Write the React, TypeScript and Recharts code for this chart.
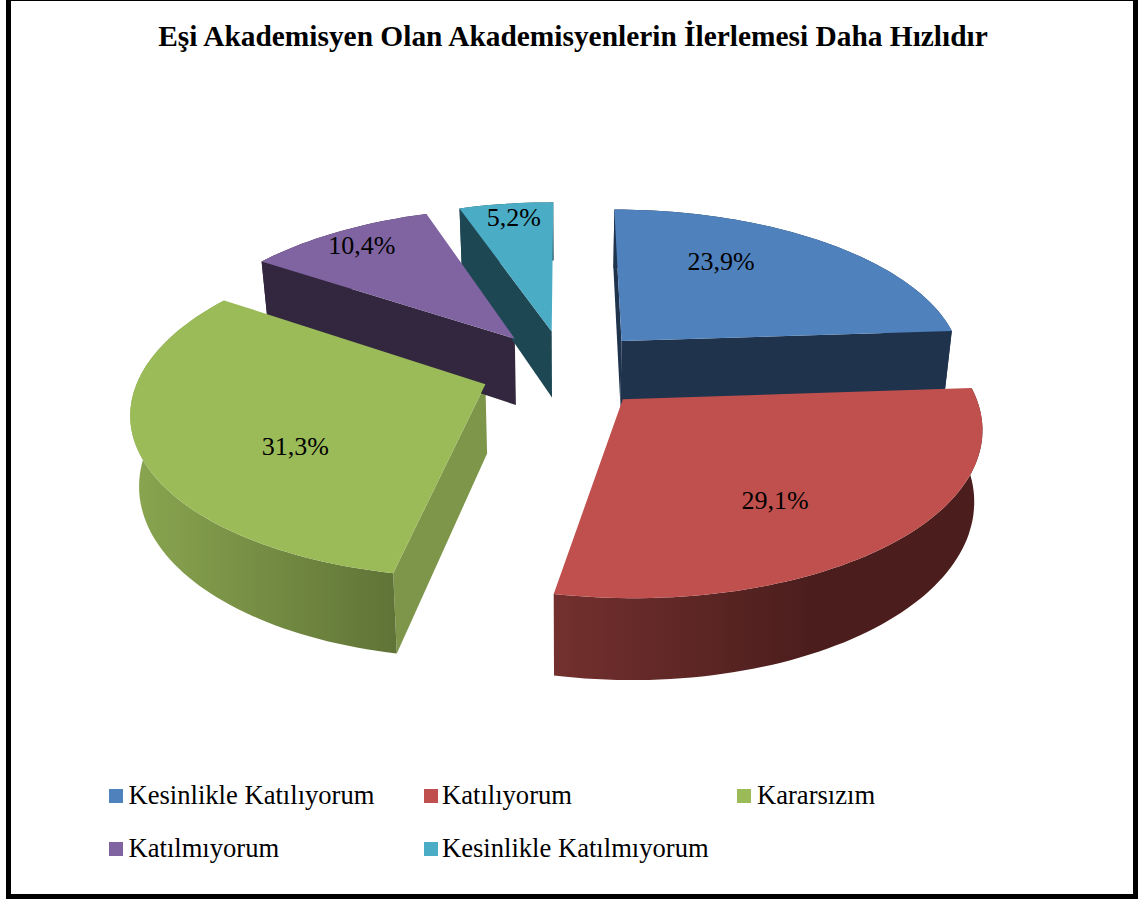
import React from 'react';
import { PieChart, Pie, Legend } from 'recharts';

const categories = [
  'Kesinlikle Katılıyorum',
  'Katılıyorum',
  'Kararsızım',
  'Katılmıyorum',
  'Kesinlikle Katılmıyorum',
];
const shares = [23.9, 29.1, 31.3, 10.4, 5.2];

const topColors = ['#4f81bd', '#c0504d', '#9bbb59', '#8064a2', '#4bacc6'];
const edgeColors = ['#1f334d', '#73302e', '#7d964a', '#33273f', '#1d4853'];
const rimLight = ['#1f334d', '#73302e', '#8aa650', '#33273f', '#1d4853'];
const rimDark = ['#1f334d', '#4b1e1d', '#607437', '#33273f', '#1d4853'];
// label shift from the slice's mid-radius point, px
const labelNudge = [
  [-26, -17],
  [-3, 20],
  [13, 23],
  [-42, -26],
  [-9, -33],
];

const table = categories.map((name, i) => ({ name, value: shares[i], fill: topColors[i] }));

const FONT = '"Liberation Serif", serif';
const RADIUS = 344;
const SQUASH = 159 / RADIUS;
const PERSPECTIVE_X = 0.15;
const PERSPECTIVE_Y = 0.15;
const EXPLODE = 0.247;

const toRad = (deg: number) => (deg * Math.PI) / 180;

// clock angle (0 at the top, clockwise) + radius on a unit disc -> screen point
function project(cx: number, cy: number, rx: number, midClock: number, clock: number, r: number) {
  const X = Math.sin(toRad(midClock)) * EXPLODE + Math.sin(toRad(clock)) * r;
  const Y = -Math.cos(toRad(midClock)) * EXPLODE - Math.cos(toRad(clock)) * r;
  return {
    x: cx + (rx * X) / (1 - PERSPECTIVE_X * Y),
    y: cy + (rx * SQUASH * Y) / (1 - PERSPECTIVE_Y * Y),
  };
}

// the same point on the underside of the slab
function drop(p: { x: number; y: number }) {
  return { x: p.x + (570 - p.x) * 0.02, y: p.y + 58 + (p.y - 200) * 0.06 };
}

const toPath = (pts: { x: number; y: number }[]) =>
  pts.map((p, i) => `${i ? 'L' : 'M'}${p.x.toFixed(1)} ${p.y.toFixed(1)}`).join(' ') + ' Z';

function rimPoints(props: any) {
  const from = 90 - props.startAngle;
  const to = 90 - props.endAngle;
  const mid = (from + to) / 2;
  const pts = [];
  for (let a = from; a < to; a += 1.5) pts.push(project(props.cx, props.cy, props.outerRadius, mid, a, 1));
  pts.push(project(props.cx, props.cy, props.outerRadius, mid, to, 1));
  const apex = project(props.cx, props.cy, props.outerRadius, mid, 0, 0);
  return { from, to, pts, apex };
}

const SlabSide = (props: any) => {
  const { from, to, pts, apex } = rimPoints(props);
  const i = categories.indexOf(props.name);
  const first = pts[0];
  const last = pts[pts.length - 1];
  const xs = pts.map((p) => p.x);
  // one quad per step so the silhouette between rim and underside stays filled
  const band = pts
    .slice(1)
    .map((p, k) => toPath([pts[k], p, drop(p), drop(pts[k])]))
    .join(' ');
  return (
    <g>
      <defs>
        <linearGradient
          id={`rim-${i}`}
          gradientUnits="userSpaceOnUse"
          x1={Math.min(...xs)}
          y1="0"
          x2={Math.max(...xs)}
          y2="0"
        >
          <stop offset="0%" stopColor={rimLight[i]} />
          <stop offset={i === 1 ? '60%' : '100%'} stopColor={rimDark[i]} />
        </linearGradient>
      </defs>
      {Math.sin(toRad(from)) < 0.001 && (
        <path d={toPath([apex, first, drop(first), drop(apex)])} fill={edgeColors[i]} />
      )}
      {Math.sin(toRad(to)) > 0.001 && (
        <path d={toPath([apex, last, drop(last), drop(apex)])} fill={edgeColors[i]} />
      )}
      <path d={band} fill={`url(#rim-${i})`} />
    </g>
  );
};

const SlabTop = (props: any) => {
  const { pts, apex } = rimPoints(props);
  return <path d={toPath([apex, ...pts])} fill={props.fill} />;
};

const renderLabel = (props: any) => {
  const i = categories.indexOf(props.name);
  const mid = 90 - props.midAngle;
  const p = project(props.cx, props.cy, props.outerRadius, mid, mid, 0.6);
  return (
    <text
      x={p.x + labelNudge[i][0]}
      y={p.y + labelNudge[i][1]}
      textAnchor="middle"
      dominantBaseline="central"
      fontFamily={FONT}
      fontSize={26}
      fill="#000"
    >
      {`${String(props.value).replace('.', ',')}%`}
    </text>
  );
};

const swatchCols = [109, 424, 737];
const textCols = [128.5, 442, 757];
const legendRows = [795, 848];

const renderLegend = () => (
  <div style={{ position: 'absolute', left: 0, top: 0, width: 1140, height: 901 }}>
    {table.map((d, i) => {
      const top = legendRows[Math.floor(i / 3)];
      return (
        <React.Fragment key={d.name}>
          <div
            style={{ position: 'absolute', left: swatchCols[i % 3], top: top - 6, width: 14, height: 14, background: d.fill }}
          />
          <div
            style={{
              position: 'absolute',
              left: textCols[i % 3],
              top: top - 16,
              lineHeight: '32px',
              fontFamily: FONT,
              fontSize: 26.6,
              color: '#000',
              whiteSpace: 'nowrap',
            }}
          >
            {d.name}
          </div>
        </React.Fragment>
      );
    })}
  </div>
);

export default function App() {
  return (
    <div style={{ position: 'absolute', left: 0, top: 0, width: 1140, height: 901, overflow: 'hidden', background: '#fff' }}>
      <PieChart width={1140} height={901} margin={{ top: 0, right: 0, bottom: 0, left: 0 }}>
        <Pie
          data={table}
          dataKey="value"
          nameKey="name"
          cx={565}
          cy={369}
          outerRadius={RADIUS}
          startAngle={90}
          endAngle={-270}
          stroke="none"
          legendType="none"
          shape={SlabSide}
          isAnimationActive={false}
        />
        <Pie
          data={table}
          dataKey="value"
          nameKey="name"
          cx={565}
          cy={369}
          outerRadius={RADIUS}
          startAngle={90}
          endAngle={-270}
          stroke="none"
          shape={SlabTop}
          label={renderLabel}
          labelLine={false}
          isAnimationActive={false}
        />
        <Legend content={renderLegend} wrapperStyle={{ position: 'absolute', left: 0, top: 0, width: 1140, height: 901 }} />
      </PieChart>
      <div
        style={{
          position: 'absolute',
          left: 0,
          top: 16,
          width: 1146,
          textAlign: 'center',
          fontFamily: FONT,
          fontWeight: 'bold',
          fontSize: 29.4,
          lineHeight: '40px',
          color: '#000',
        }}
      >
        Eşi Akademisyen Olan Akademisyenlerin İlerlemesi Daha Hızlıdır
      </div>
      <div
        style={{
          position: 'absolute',
          left: 6,
          top: -4,
          width: 1122,
          height: 893,
          border: '5px solid #000',
          pointerEvents: 'none',
        }}
      />
    </div>
  );
}
